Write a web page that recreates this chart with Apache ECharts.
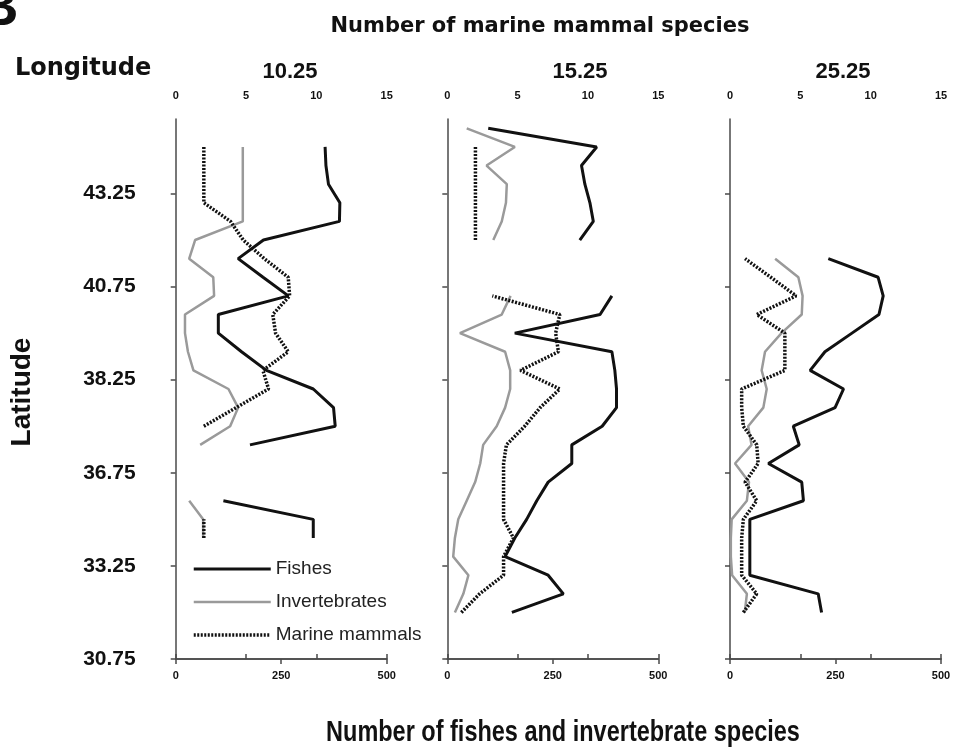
<!DOCTYPE html>
<html>
<head>
<meta charset="utf-8">
<script src="https://cdn.jsdelivr.net/npm/echarts@6/dist/echarts.min.js"></script>
<style>
html,body{margin:0;padding:0;background:#fff;}
#chart{width:954px;height:750px;}
</style>
</head>
<body>
<div id="chart"></div>
<script>
// Latitude tick labels (every 5 rows, bottom to top)
const latLabels = ['30.75', '33.25', '36.75', '38.25', '40.75', '43.25'];
const latTickRows = [0, 5, 10, 15, 20, 25];
const rowCount = 29;
const longitudes = ['10.25', '15.25', '25.25'];
const seriesNames = ['Fishes', 'Invertebrates', 'Marine mammals'];

// Values per latitude row, bottom (row 0) to top (row 28); null = no data
const fish1025 = [null, null, null, null, null, null, 326, 326, 113, null, null, 176, 378, 374, 326, 215, 156, 101, 101, 267, 207, 148, 208, 388, 389, 362, 356, 354, null];
const inv1025  = [null, null, null, null, null, null, 65, 65, 32, null, null, 58, 129, 148, 125, 42, 29, 22, 22, 91, 89, 32, 46, 159, 159, 159, 159, 159, null];
const mam1025  = [null, null, null, null, null, null, 2, 2, null, null, null, null, 2, 4.3, 6.6, 6.2, 8.0, 7.1, 6.9, 8.1, 8.0, 6.3, 4.8, 3.9, 2, 2, 2, 2, null];

const fish1525 = [null, null, 153, 275, 239, 137, 160, 188, 212, 239, 295, 295, 367, 401, 401, 397, 390, 160, 362, 390, null, null, 314, 346, 338, 326, 318, 354, 97];
const inv1525  = [null, null, 18, 38, 50, 14, 18, 26, 46, 66, 78, 85, 117, 137, 149, 149, 137, 30, 129, 150, null, null, 109, 129, 139, 141, 93, 160, 46];
const mam1525  = [null, null, 1.0, 2.3, 4.0, 4.0, 4.7, 4.0, 4.0, 4.0, 4.0, 4.2, 5.5, 6.6, 8.0, 5.2, 7.9, 7.7, 8.0, 3.2, null, null, 2, 2, 2, 2, 2, 2, null];

const fish2525 = [null, null, 217, 209, 47, 47, 47, 47, 174, 170, 91, 164, 150, 249, 269, 190, 225, 289, 353, 363, 351, 233, null, null, null, null, null, null, null];
const inv2525  = [null, null, 35, 40, 5, 2, 2, 4, 40, 45, 12, 51, 43, 79, 87, 75, 83, 122, 170, 172, 162, 107, null, null, null, null, null, null, null];
const mam2525  = [null, null, 0.95, 1.9, 0.83, 0.83, 0.83, 0.95, 1.9, 1.07, 2.0, 1.9, 0.95, 0.83, 0.83, 3.9, 3.9, 3.9, 1.9, 4.7, 2.9, 1.07, null, null, null, null, null, null, null];

const panels = [
  {fish: fish1025, inv: inv1025, mam: mam1025},
  {fish: fish1525, inv: inv1525, mam: mam1525},
  {fish: fish2525, inv: inv2525, mam: mam2525}
];

// rows are centred in their latitude band
function toPoints(arr) {
  return arr.map((v, i) => [v, i + 0.5]);
}

const gridLefts = [175.7, 447.3, 730];
const axisColor = '#4a4a4a';
const tickFont = {fontFamily: '"Liberation Sans", Arial', fontWeight: 'bold', fontSize: 11, color: '#111'};
const styles = {
  'Fishes': {color: '#111', width: 3, type: 'solid'},
  'Invertebrates': {color: '#9a9a9a', width: 2.5, type: 'solid'},
  'Marine mammals': {color: '#111', width: 3.5, type: [2, 1.5]}
};

const grids = [], xAxes = [], yAxes = [], series = [];
panels.forEach((p, k) => {
  grids.push({left: gridLefts[k], top: 119, width: 211, height: 540, outerBoundsMode: 'none', containLabel: false});
  // top axis: marine mammals
  xAxes.push({
    type: 'value', gridIndex: k, position: 'top', min: 0, max: 15, interval: 5,
    axisLine: {show: true, lineStyle: {color: axisColor, width: 1.5}},
    axisTick: {show: true, length: 5, lineStyle: {color: axisColor, width: 1.5}},
    axisLabel: Object.assign({margin: 18}, tickFont),
    splitLine: {show: false}
  });
  // bottom axis: fishes and invertebrates
  xAxes.push({
    type: 'value', gridIndex: k, position: 'bottom', min: 0, max: 500, interval: 250,
    axisLine: {show: true, onZero: false, lineStyle: {color: axisColor, width: 1.5}},
    axisTick: {show: true, length: 5, lineStyle: {color: axisColor, width: 1.5}},
    axisLabel: Object.assign({margin: 11}, tickFont),
    splitLine: {show: false}
  });
  yAxes.push({
    type: 'value', gridIndex: k, min: 0, max: rowCount, interval: 5,
    axisLine: {show: true, onZero: false, lineStyle: {color: axisColor, width: 1.5}},
    axisTick: {show: true, length: 5, customValues: latTickRows, lineStyle: {color: axisColor, width: 1.5}},
    axisLabel: {
      show: k === 0, customValues: latTickRows, margin: 40,
      fontFamily: '"Liberation Sans", Arial', fontWeight: 'bold', fontSize: 21, color: '#111',
      formatter: v => latLabels[latTickRows.indexOf(Math.round(v))] || ''
    },
    splitLine: {show: false}
  });
  series.push({
    name: 'Invertebrates', type: 'line', xAxisIndex: 2 * k + 1, yAxisIndex: k,
    data: toPoints(p.inv), symbol: 'none', connectNulls: false,
    lineStyle: styles['Invertebrates'], itemStyle: {color: '#9a9a9a'}
  });
  series.push({
    name: 'Fishes', type: 'line', xAxisIndex: 2 * k + 1, yAxisIndex: k,
    data: toPoints(p.fish), symbol: 'none', connectNulls: false,
    lineStyle: styles['Fishes'], itemStyle: {color: '#111'}
  });
  series.push({
    name: 'Marine mammals', type: 'line', xAxisIndex: 2 * k, yAxisIndex: k,
    data: toPoints(p.mam), symbol: 'none', connectNulls: false,
    lineStyle: styles['Marine mammals'], itemStyle: {color: '#111'}
  });
});

const titleXs = [290, 580, 843];
const graphics = [
  {type: 'text', x: -22, y: -18, style: {text: 'B', font: 'bold 56px "Liberation Sans", Arial', fill: '#111'}},
  {type: 'text', x: 540, y: 27, style: {text: 'Number of marine mammal species', font: 'bold 21px "DejaVu Sans"', fill: '#111', align: 'center', verticalAlign: 'middle'}},
  {type: 'text', x: 15, y: 69, style: {text: 'Longitude', font: 'bold 24px "DejaVu Sans"', fill: '#111', align: 'left', verticalAlign: 'middle'}},
  {type: 'text', x: 22, y: 392, rotation: Math.PI / 2, style: {text: 'Latitude', font: 'bold 28px "Liberation Sans", Arial', fill: '#111', align: 'center', verticalAlign: 'middle'}},
  {type: 'text', x: 563, y: 733, scaleX: 0.81, style: {text: 'Number of fishes and invertebrate species', font: 'bold 29px "Liberation Sans", Arial', fill: '#111', align: 'center', verticalAlign: 'middle'}}
];
longitudes.forEach((t, k) => {
  graphics.push({type: 'text', x: titleXs[k], y: 72, style: {text: t, font: 'bold 22px "Liberation Sans", Arial', fill: '#111', align: 'center', verticalAlign: 'middle'}});
});

const chart = echarts.init(document.getElementById('chart'), null, {renderer: 'canvas'});
chart.setOption({
  animation: false,
  backgroundColor: '#fff',
  grid: grids,
  xAxis: xAxes,
  yAxis: yAxes,
  legend: {
    data: seriesNames.map(n => ({name: n, lineStyle: Object.assign({}, styles[n])})),
    orient: 'vertical', left: 192, top: 559, padding: 0,
    itemWidth: 77, itemHeight: 20, itemGap: 13,
    itemStyle: {opacity: 0},
    textStyle: {fontFamily: '"Liberation Sans", Arial', fontSize: 19, color: '#222', lineHeight: 20}
  },
  graphic: graphics,
  series: series
});
</script>
</body>
</html>
